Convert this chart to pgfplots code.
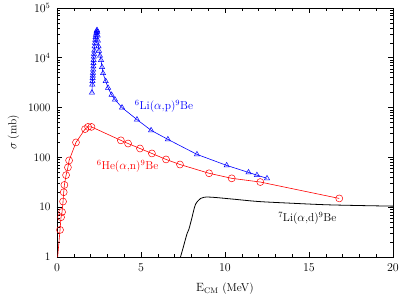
\documentclass[border=0pt]{standalone}
\usepackage{pgfplots}
\pgfplotsset{compat=1.18}
\begin{document}
\begin{tikzpicture}
\begin{axis}[
    name=ax,
    scale only axis,
    width=336bp, height=249bp,
    ymode=log,
    xmin=0, xmax=20, ymin=1, ymax=1e5,
    xtick={0,5,10,15,20},
    minor x tick num=4,
    ytick={1,10,100,1000,1e4,1e5},
    yticklabels={1,10,100,1000,$10^4$,$10^5$},
    tick align=inside,
    major tick length=5bp,
    minor tick length=3bp,
    tick style={black, line width=0.6pt},
    axis line style={line width=0.8pt},
    tick label style={font=\fontsize{11.5}{13}\selectfont},
    label style={font=\fontsize{11.5}{13}\selectfont},
    xticklabel style={yshift=-3bp},
    yticklabel style={xshift=-3bp},
    xlabel={$\mathrm{E}_{\mathrm{CM}}$ (MeV)},
    ylabel={$\sigma$ (mb)},
    xlabel shift=5bp,
    ylabel shift=2bp,
    clip=true,
]

% 6Li(a,p)9Be
\addplot[blue, line width=0.6pt, mark=triangle, mark size=3bp, mark options={solid, line width=0.5pt}]
  coordinates {
  (2.08,2000)(2.10,2900)(2.11,3400)(2.12,3900)(2.13,4400)(2.14,5000)(2.15,5800)
  (2.16,6700)(2.17,7800)(2.18,9000)(2.19,10500)(2.20,12000)(2.22,14000)(2.24,17000)
  (2.26,20000)(2.28,23000)(2.30,26000)(2.32,29000)(2.34,31500)(2.36,34000)(2.38,36000)
  (2.40,33000)(2.42,28000)(2.44,22000)(2.47,17000)(2.50,13800)(2.56,11000)(2.62,9000)
  (2.68,6500)(2.74,4900)(2.90,3400)(3.04,2500)(3.25,1800)(3.45,1450)(3.87,1000)
  (4.76,575)(5.6,350)(6.6,230)(8.33,115)(10.1,69)(11.4,50)(11.9,44)(12.5,38)
  };

% 6He(a,n)9Be
\addplot[red, line width=0.6pt, no markers] coordinates {(0.04,1)(0.18,3.5)};
\addplot[red, line width=0.6pt, mark=o, mark size=3.5bp, mark options={solid, line width=0.5pt}]
  coordinates {
  (0.18,3.5)(0.24,6.3)(0.30,8)(0.36,13)(0.40,20)(0.44,28)(0.54,44)(0.65,63)(0.72,87)
  (1.13,200)(1.67,370)(1.85,410)(2.05,410)(3.8,220)(4.23,190)(4.94,151)(5.65,120)
  (6.49,91)(7.32,72)(9.05,48)(10.4,38)(12.1,32)(16.8,15)
  };

% 7Li(a,d)9Be
\addplot[black, line width=0.8pt, smooth, no markers]
  coordinates {
  (7.35,1)(7.5,1.5)(7.65,2.3)(7.75,3.0)(7.85,3.6)(7.95,4.8)(8.05,6.5)(8.15,9)(8.25,11.5)(8.4,13.5)
  (8.55,15)(8.75,15.8)(9.0,16)(9.5,15.6)(10.5,14.5)(12,13)(14,12)(16,11.2)(18,10.8)(20,10.5)
  };

\node[blue, font=\fontsize{11.5}{13}\selectfont] at (axis cs:6.37,1050) {$^{6}$Li($\alpha$,p)$^{9}$Be};
\node[red, font=\fontsize{11.5}{13}\selectfont] at (axis cs:4.2,66) {$^{6}$He($\alpha$,n)$^{9}$Be};
\node[black, font=\fontsize{11.5}{13}\selectfont] at (axis cs:14.9,6) {$^{7}$Li($\alpha$,d)$^{9}$Be};

\end{axis}
\pgfresetboundingbox
\path[use as bounding box] ([xshift=-57bp,yshift=-43bp]ax.south west) rectangle ([xshift=6bp,yshift=8bp]ax.north east);
\end{tikzpicture}
\end{document}
